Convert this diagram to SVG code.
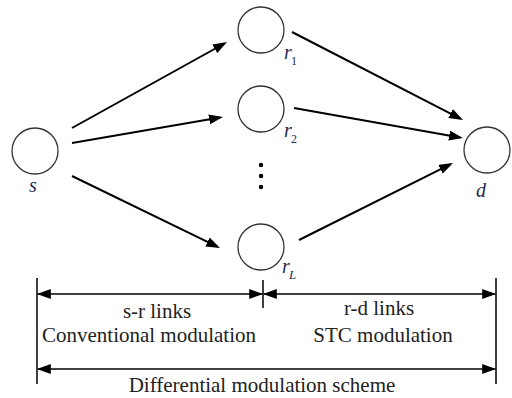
<svg xmlns="http://www.w3.org/2000/svg" width="512" height="398" viewBox="0 0 512 398">
<defs>
<marker id="ah" markerUnits="userSpaceOnUse" viewBox="0 0 14 10" refX="11" refY="5" markerWidth="14" markerHeight="10" orient="auto-start-reverse">
<path d="M0,0 L14,5 L0,10 Z" fill="#000"/>
</marker>
<marker id="dh" markerUnits="userSpaceOnUse" viewBox="0 0 14 10" refX="13" refY="5" markerWidth="14" markerHeight="10" orient="auto-start-reverse">
<path d="M0,0 L14,5 L0,10 Z" fill="#000"/>
</marker>
</defs>
<style>
.node{fill:#fff;stroke:#333;stroke-width:1.3}
.lbl{font-family:"Liberation Serif",serif;font-style:italic;font-size:20px;fill:#1f2a55}
.sub{font-family:"Liberation Serif",serif;font-size:12px;fill:#1f2a55}
.subi{font-family:"Liberation Serif",serif;font-style:italic;font-size:13px;fill:#1f2a55}
.edge{stroke:#000;stroke-width:2;fill:none;marker-end:url(#ah)}
.dim{stroke:#000;stroke-width:1.5;fill:none;marker-start:url(#dh);marker-end:url(#dh)}
.tick{stroke:#000;stroke-width:1.5}
.txt{font-family:"Liberation Serif",serif;font-size:21px;fill:#222;text-anchor:middle}
</style>
<rect width="512" height="398" fill="#fff"/>
<g id="s"><circle class="node" cx="35" cy="151" r="23"/><text class="lbl" x="29" y="192">s</text></g>
<g id="r1"><circle class="node" cx="261" cy="30" r="23"/><text class="lbl" x="284" y="59">r</text><text class="sub" x="291" y="65">1</text></g>
<g id="r2"><circle class="node" cx="261" cy="109" r="23"/><text class="lbl" x="284" y="137">r</text><text class="sub" x="291" y="143">2</text></g>
<g id="dots"><circle cx="261" cy="165" r="2.2" fill="#000"/><circle cx="261" cy="176" r="2.2" fill="#000"/><circle cx="261" cy="187" r="2.2" fill="#000"/></g>
<g id="rL"><circle class="node" cx="261" cy="247" r="23"/><text class="lbl" x="282" y="273">r</text><text class="subi" x="289" y="279">L</text></g>
<g id="d"><circle class="node" cx="487" cy="150" r="23"/><text class="lbl" x="476" y="197">d</text></g>
<g id="connectors">
<line class="edge" x1="72" y1="128" x2="224.4" y2="43.5"/>
<line class="edge" x1="72" y1="143" x2="220" y2="117.5"/>
<line class="edge" x1="72" y1="176" x2="217.3" y2="246.7"/>
<line class="edge" x1="292" y1="32" x2="460.3" y2="118.6"/>
<line class="edge" x1="294" y1="108" x2="460" y2="137.5"/>
<line class="edge" x1="299" y1="240" x2="450.3" y2="164.3"/>
</g>
<g id="dimensions">
<line class="tick" x1="37" y1="278" x2="37" y2="384"/>
<line class="tick" x1="263" y1="280" x2="263" y2="308"/>
<line class="tick" x1="496" y1="278" x2="496" y2="384"/>
<line class="dim" x1="37.8" y1="294" x2="262.2" y2="294"/>
<line class="dim" x1="263.8" y1="294" x2="495.2" y2="294"/>
<line class="dim" x1="37.8" y1="369" x2="495.2" y2="369"/>
</g>
<g id="labels">
<text class="txt" x="157" y="318">s-r links</text>
<text class="txt" x="149" y="342">Conventional modulation</text>
<text class="txt" x="379" y="315">r-d links</text>
<text class="txt" x="383" y="342">STC modulation</text>
<text class="txt" x="262" y="392">Differential modulation scheme</text>
</g>
</svg>
